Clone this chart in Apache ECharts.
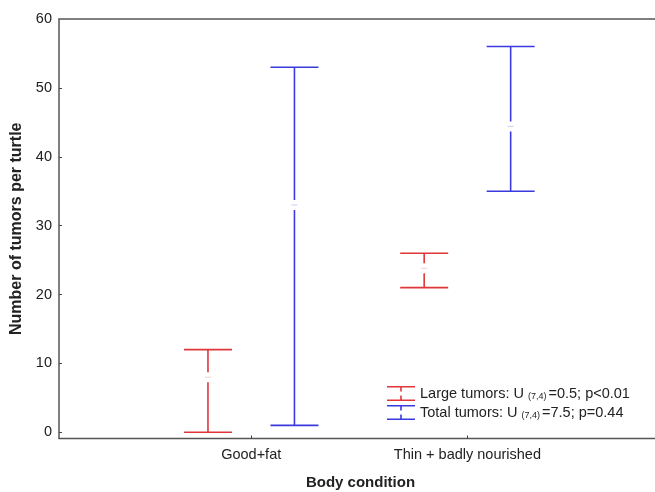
<!DOCTYPE html>
<html>
<head>
<meta charset="utf-8">
<script src="https://cdn.jsdelivr.net/npm/echarts@6/dist/echarts.min.js"></script>
<style>html,body{margin:0;padding:0;background:#fff}#c{width:655px;height:492px}</style>
</head>
<body>
<div id="c"></div>
<script>
// ---- data ----
const categories = ['Good+fat', 'Thin + badly nourished'];
const yTicks = [0, 10, 20, 30, 40, 50, 60];
// Large tumors: mean (centre), min, max
const largeMean = [8, 23.8];
const largeLow = [0, 21];
const largeHigh = [12, 26];
// Total tumors
const totalMean = [33, 44.4];
const totalLow = [1, 35];
const totalHigh = [53, 56];
const seriesNames = ['Large tumors', 'Total tumors'];
const legendLabels = {
  'Large tumors': 'Large tumors: U {sub|(7,4)}=0.5; p<0.01',
  'Total tumors': 'Total tumors: U {sub|(7,4)}=7.5; p=0.44'
};

const RED = '#e0363a';
const BLUE = '#3a3ae0';
const FONT = 'Arial, "Liberation Sans", sans-serif';

function buildData(mean, low, high) {
  return categories.map((c, i) => [i, low[i], high[i], mean[i]]);
}

function makeRender(dx, color) {
  return function (params, api) {
    const x = api.value(0) + dx;
    const lo = api.coord([x, api.value(1)]);
    const hi = api.coord([x, api.value(2)]);
    const mid = api.coord([x, api.value(3)]);
    const cw = 24, gap = 5;
    const st = { stroke: color, lineWidth: 1.6 };
    const children = [
      { type: 'line', shape: { x1: hi[0] - cw, y1: hi[1], x2: hi[0] + cw, y2: hi[1] }, style: st },
      { type: 'line', shape: { x1: lo[0] - cw, y1: lo[1], x2: lo[0] + cw, y2: lo[1] }, style: st },
      { type: 'line', shape: { x1: hi[0], y1: hi[1], x2: mid[0], y2: mid[1] - gap }, style: st },
      { type: 'line', shape: { x1: mid[0], y1: mid[1] + gap, x2: lo[0], y2: lo[1] }, style: st },
      { type: 'line', shape: { x1: mid[0] - 3, y1: mid[1], x2: mid[0] + 3, y2: mid[1] }, style: { stroke: color, lineWidth: 1, opacity: 0.25 } }
    ];
    return { type: 'group', children };
  };
}

const iconPath = 'path://M0,0H28V1.6H0Z M13.2,0H14.8V5.5H13.2Z M13.2,9.5H14.8V15H13.2Z M0,13.4H28V15H0Z';

const chart = echarts.init(document.getElementById('c'), null, { renderer: 'canvas' });
chart.setOption({
  backgroundColor: '#fff',
  animation: false,
  textStyle: { fontFamily: FONT },
  grid: { left: 59, right: -7, top: 19, bottom: 53.5, outerBoundsMode: 'none', containLabel: false,
    show: true, borderColor: '#555', borderWidth: 1.5, backgroundColor: 'transparent' },
  xAxis: {
    type: 'value', min: -0.889, max: 1.9,
    name: 'Body condition', nameLocation: 'middle', nameGap: 37,
    nameTextStyle: { fontFamily: FONT, fontSize: 15, fontWeight: 'bold', color: '#222' },
    axisLine: { show: false, onZero: false },
    splitLine: { show: false },
    axisTick: { show: true, inside: true, length: 3, customValues: [0, 1], lineStyle: { color: '#444' } },
    axisLabel: { customValues: [0, 1], margin: 9, fontSize: 14.5, color: '#222', fontFamily: FONT,
      formatter: v => categories[Math.round(v)] }
  },
  yAxis: {
    type: 'value', min: -0.9, max: 60,
    name: 'Number of tumors per turtle', nameLocation: 'middle', nameGap: 30,
    nameTextStyle: { fontFamily: FONT, fontSize: 16, fontWeight: 'bold', color: '#222' },
    axisLine: { show: false, onZero: false },
    splitLine: { show: false },
    axisTick: { show: true, inside: true, length: 3, customValues: yTicks.slice(0, 6), lineStyle: { color: '#444' } },
    axisLabel: { customValues: yTicks, margin: 7, fontSize: 14.5, color: '#222', fontFamily: FONT }
  },
  legend: {
    orient: 'vertical', left: 382, top: 381, itemWidth: 28, itemHeight: 15, itemGap: 4,
    data: seriesNames.map(n => ({ name: n, icon: iconPath })),
    formatter: n => legendLabels[n],
    textStyle: { fontFamily: FONT, fontSize: 14.5, color: '#222',
      rich: { sub: { fontSize: 9, fontFamily: FONT, color: '#222', padding: [6, 2, 0, 0] } } }
  },
  series: [
    { name: seriesNames[0], type: 'custom', itemStyle: { color: RED }, renderItem: makeRender(-0.2, RED),
      data: buildData(largeMean, largeLow, largeHigh), encode: { x: 0, y: [1, 2] } },
    { name: seriesNames[1], type: 'custom', itemStyle: { color: BLUE }, renderItem: makeRender(0.2, BLUE),
      data: buildData(totalMean, totalLow, totalHigh), encode: { x: 0, y: [1, 2] } }
  ]
});
</script>
</body>
</html>
